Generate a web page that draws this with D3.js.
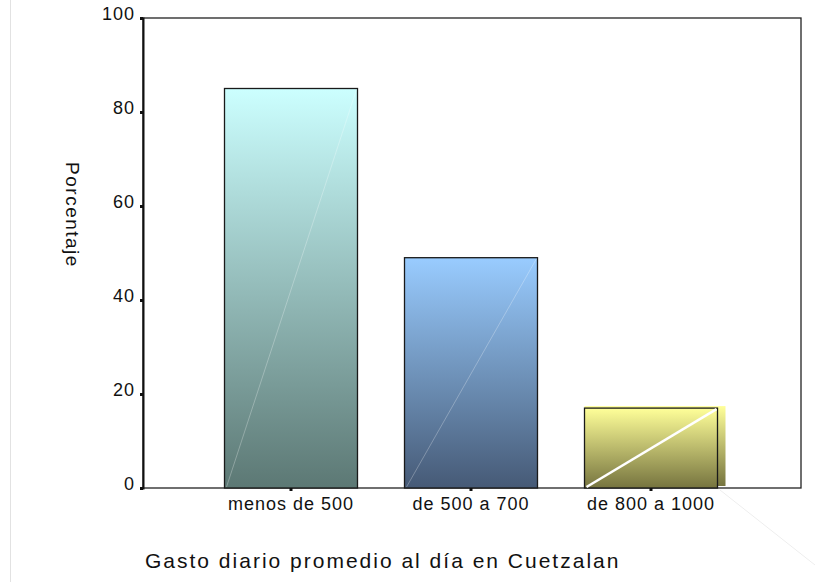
<!DOCTYPE html>
<html>
<head>
<meta charset="utf-8">
<script src="https://cdn.jsdelivr.net/npm/d3@7"></script>
<style>
  body { margin: 0; background: #fff; }
  text { font-family: "Liberation Sans", Arial, sans-serif; fill: #111; }
</style>
</head>
<body>
<svg id="chart"></svg>
<script>
const width = 820;
const height = 582;

const categories = ['menos de 500', 'de 500 a 700', 'de 800 a 1000'];
const values = [85, 49, 17];
const yTicks = [0, 20, 40, 60, 80, 100];
const topColors = ['#ccffff', '#99ccff', '#ffff99'];
const bottomColors = ['#5c7874', '#465a76', '#76743f'];
const lineOpacity = [0.35, 0.35, 1];

const plotLeft = 143, plotRight = 801, plotTop = 18, plotBottom = 488;

const svg = d3.select('#chart').attr('width', width).attr('height', height);

const x = d3.scaleBand().domain(categories).range([201, 741]).paddingInner(0.26).paddingOuter(0.13);
const y = d3.scaleLinear().domain([0, 100]).range([plotBottom, plotTop]);

// faint vertical edge at the far left
svg.append('line')
    .attr('x1', 10.5).attr('x2', 10.5).attr('y1', 0).attr('y2', height)
    .attr('stroke', '#e2e2e2').attr('stroke-width', 1);

const defs = svg.append('defs');
categories.forEach((c, i) => {
    const g = defs.append('linearGradient')
        .attr('id', 'grad' + i)
        .attr('x1', 0).attr('y1', 0).attr('x2', 0).attr('y2', 1);
    g.append('stop').attr('offset', '0%').attr('stop-color', topColors[i]);
    g.append('stop').attr('offset', '100%').attr('stop-color', bottomColors[i]);
});

// frame
svg.append('rect')
    .attr('x', plotLeft).attr('y', plotTop)
    .attr('width', plotRight - plotLeft).attr('height', plotBottom - plotTop)
    .attr('fill', 'none').attr('stroke', '#222').attr('stroke-width', 1.3);

const bw = 133;

// extra shaded fill behind the last bar
svg.append('rect')
    .attr('x', x(categories[2]) + (x.bandwidth() - bw) / 2)
    .attr('y', y(values[2]) - 2)
    .attr('width', bw + 8)
    .attr('height', plotBottom - y(values[2]))
    .attr('fill', 'url(#grad2)');

const bars = svg.selectAll('.bar').data(categories).enter().append('g').attr('class', 'bar');

bars.append('rect')
    .attr('x', d => x(d) + (x.bandwidth() - bw) / 2)
    .attr('y', (d, i) => y(values[i]))
    .attr('width', bw)
    .attr('height', (d, i) => plotBottom - y(values[i]))
    .attr('fill', (d, i) => 'url(#grad' + i + ')')
    .attr('stroke', '#1a1a1a').attr('stroke-width', 1.3);

bars.append('line')
    .attr('x1', d => x(d) + (x.bandwidth() - bw) / 2 + 2)
    .attr('y1', plotBottom - 1)
    .attr('x2', d => x(d) + (x.bandwidth() + bw) / 2 - 1)
    .attr('y2', (d, i) => y(values[i]) + 1)
    .attr('stroke', '#fff')
    .attr('stroke-width', (d, i) => i === 2 ? 2.5 : 0.8)
    .attr('stroke-opacity', (d, i) => lineOpacity[i]);

// faint stray diagonal near lower right
svg.append('line')
    .attr('x1', 720).attr('y1', 490).attr('x2', 815).attr('y2', 565)
    .attr('stroke', '#eeeeee').attr('stroke-width', 1);

// y axis
const yAxis = svg.append('g').attr('transform', `translate(${plotLeft},0)`)
    .call(d3.axisLeft(y).tickValues(yTicks).tickSize(3).tickPadding(5));
yAxis.select('.domain').attr('stroke', '#111').attr('stroke-width', 2);
yAxis.selectAll('.tick line').attr('stroke', '#111').attr('stroke-width', 3);
yAxis.selectAll('.tick text')
    .style('font-size', '18px').style('letter-spacing', '1px')
    .attr('dy', '0.1em');

// x axis
const xAxis = svg.append('g').attr('transform', `translate(0,${plotBottom})`)
    .call(d3.axisBottom(x).tickSize(3).tickPadding(6));
xAxis.select('.domain').remove();
xAxis.selectAll('.tick line').attr('stroke', '#111').attr('stroke-width', 3);
xAxis.selectAll('.tick text')
    .style('font-size', '18px').style('letter-spacing', '1px');

svg.append('text')
    .attr('transform', 'translate(66,215) rotate(90)')
    .attr('text-anchor', 'middle')
    .style('font-size', '19px').style('letter-spacing', '1.5px')
    .text('Porcentaje');

svg.append('text')
    .attr('x', 145).attr('y', 568)
    .style('font-size', '21px').style('letter-spacing', '2px')
    .text('Gasto diario promedio al día en Cuetzalan');
</script>
</body>
</html>
